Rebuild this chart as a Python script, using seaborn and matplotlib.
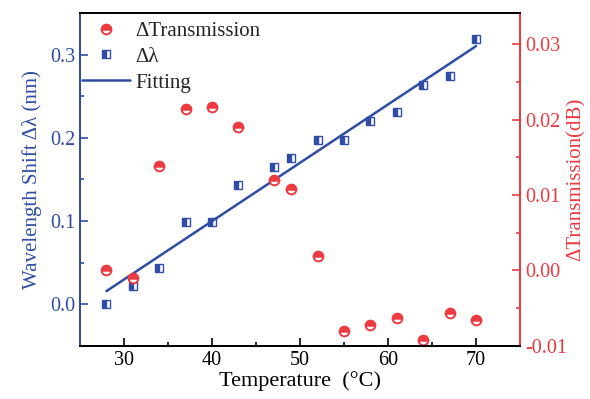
import numpy as np
import pandas as pd
import matplotlib
matplotlib.use("Agg")
import matplotlib.pyplot as plt
import seaborn as sns
from matplotlib.ticker import MultipleLocator, FormatStrFormatter

temperature = [28, 31, 34, 37, 40, 43, 47, 49, 52, 55, 58, 61, 64, 67, 70]
wavelength_shift = [0.0, 0.022, 0.044, 0.099, 0.099, 0.143, 0.165, 0.176,
                    0.198, 0.198, 0.220, 0.231, 0.264, 0.275, 0.319]
delta_transmission = [0.0, -0.001, 0.0139, 0.0214, 0.0217, 0.0190, 0.0120, 0.0108,
                      0.0019, -0.0081, -0.0072, -0.0063, -0.0093, -0.0056, -0.0066]

BLUE = "#2f4da6"
RED = "#ec3a40"

sns.set_theme(style="white")
plt.rcParams["font.family"] = ["Liberation Serif", "DejaVu Serif"]
plt.rcParams["mathtext.fontset"] = "stix"
plt.rcParams["axes.unicode_minus"] = False

df = pd.DataFrame({"T": temperature, "dl": wavelength_shift, "dT": delta_transmission})
slope, intercept = np.polyfit(df["T"], df["dl"], 1)
df["fit"] = slope * df["T"] + intercept

fig = plt.figure(figsize=(5.9, 3.99), dpi=100)
ax = fig.add_axes([0.1356, 0.1336, 0.7458, 0.8331])
ax2 = ax.twinx()

sns.lineplot(data=df, x="T", y="dT", ax=ax2, linestyle="", marker="o", markersize=7,
             color=RED, fillstyle="bottom", markerfacecolor="white",
             markerfacecoloralt=RED, markeredgecolor=RED, markeredgewidth=1.4,
             errorbar=None, label="ΔTransmission", legend=False)
sns.lineplot(data=df, x="T", y="dl", ax=ax, linestyle="", marker="s", markersize=5.8,
             color=BLUE, fillstyle="left", markerfacecolor=BLUE,
             markerfacecoloralt="white", markeredgecolor=BLUE, markeredgewidth=1.0,
             errorbar=None, label="Δλ", legend=False)
sns.lineplot(data=df, x="T", y="fit", ax=ax, color=BLUE, linewidth=1.8,
             errorbar=None, label="Fitting", legend=False)

ax.set_xlim(25, 75)
ax.set_ylim(-0.05, 0.35)
ax2.set_ylim(-0.01, 0.0341)

ax.xaxis.set_major_locator(MultipleLocator(10))
ax.xaxis.set_minor_locator(MultipleLocator(5))
ax.yaxis.set_major_locator(MultipleLocator(0.1))
ax.yaxis.set_minor_locator(MultipleLocator(0.05))
ax.yaxis.set_major_formatter(FormatStrFormatter("%.1f"))
ax2.yaxis.set_major_locator(MultipleLocator(0.01))
ax2.yaxis.set_minor_locator(MultipleLocator(0.005))
ax2.yaxis.set_major_formatter(FormatStrFormatter("%.2f"))

fs = 14.5
ax.tick_params(axis="x", which="both", direction="in", bottom=True, top=False,
               colors="black", labelsize=fs, width=1.2)
ax.tick_params(axis="x", which="major", length=6)
ax.tick_params(axis="x", which="minor", length=3)
ax.tick_params(axis="y", which="both", direction="in", left=True, right=False,
               colors=BLUE, labelsize=fs, width=1.2)
ax.tick_params(axis="y", which="major", length=6)
ax.tick_params(axis="y", which="minor", length=3)
ax2.tick_params(axis="y", which="both", direction="in", right=True, left=False,
                colors=RED, labelsize=fs, width=1.2)
ax2.tick_params(axis="y", which="major", length=6)
ax2.tick_params(axis="y", which="minor", length=3)

for a in (ax, ax2):
    for s in a.spines.values():
        s.set_linewidth(1.4)
ax.spines["left"].set_color(BLUE)
ax2.spines["left"].set_color(BLUE)
ax.spines["right"].set_color(RED)
ax2.spines["right"].set_color(RED)
ax.spines["top"].set_color("black")
ax2.spines["top"].set_color("black")
ax.spines["bottom"].set_color("black")
ax2.spines["bottom"].set_color("black")

ax.set_xlabel("Temperature  (°C)", fontsize=16, color="black", labelpad=1)
ax.set_ylabel("Wavelength Shift Δλ (nm)", fontsize=15, color=BLUE, labelpad=6)
ax2.set_ylabel("ΔTransmission(dB)", fontsize=15, color=RED, labelpad=0)

h1, l1 = ax2.get_legend_handles_labels()
h2, l2 = ax.get_legend_handles_labels()
leg = ax2.legend(h1 + h2, l1 + l2, loc="upper left", frameon=False, fontsize=15,
                 handlelength=2.3, handletextpad=0.25, borderaxespad=0,
                 borderpad=0, labelspacing=0.3,
                 bbox_to_anchor=(2 / 440, 1 - 8 / 332.4))

fig.savefig("out.png", dpi=100)
